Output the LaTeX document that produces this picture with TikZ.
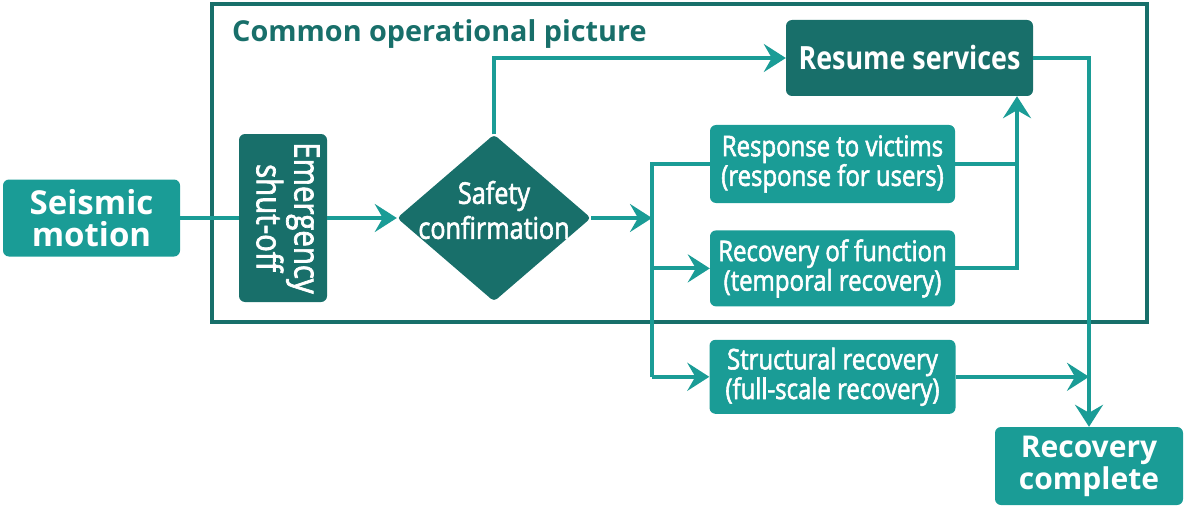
\documentclass[tikz,border=0pt]{standalone}
\usepackage{fontspec}
\setmainfont{Open Sans}
\newfontfamily\condfont[FakeStretch=0.84, FakeBold=2]{Open Sans}
\newfontfamily\condbold[FakeStretch=0.84]{Open Sans}
\usetikzlibrary{positioning, arrows.meta, shapes.geometric}
\definecolor{tealdark}{RGB}{24,111,106}
\definecolor{teallight}{RGB}{26,156,150}

\begin{document}
\begin{tikzpicture}[
  x=1pt, y=-1pt,
  lightbox/.style={fill=teallight, rounded corners=6pt, text=white, align=center, inner sep=0pt},
  darkbox/.style={fill=tealdark, rounded corners=6pt, text=white, align=center, inner sep=0pt},
  boxtext/.style={font=\condfont\fontsize{28.5}{26}\selectfont},
  bigtext/.style={font=\bfseries\fontsize{31}{32}\selectfont},
  link/.style={line width=4pt, teallight},
  arrow/.style={-{Stealth[length=22pt, width=28pt, inset=8pt]}, line width=4pt, teallight},
  node distance=27pt
]
\useasboundingbox (0,0) rectangle (1185,508);

% Frame and title
\node[draw=tealdark, line width=4pt, minimum width=935, minimum height=318, inner sep=0pt] (cop) at (679.5,163) {};
\node[anchor=base west, inner sep=0pt, text=tealdark, font=\bfseries\fontsize{28.8}{30}\selectfont] (title) at (232,42) {Common operational picture};

% Nodes
\node[lightbox, bigtext, font=\bfseries\fontsize{33}{32}\selectfont, minimum width=177, minimum height=77] (seismic) at (91.5,218) {Seismic\\motion};
\node[darkbox, minimum width=88, minimum height=168] (shutoff) at (283,218)
  {\rotatebox{-90}{\condfont\fontsize{35}{37}\selectfont\begin{tabular}{@{}c@{}}Emergency\\shut-off\end{tabular}}};
\node[diamond, fill=tealdark, minimum width=194, minimum height=167, inner sep=0pt, rounded corners=4pt,
  label={[text=white, align=center, yshift=8pt, font=\condfont\fontsize{30}{35}\selectfont]center:Safety\\confirmation}] (safety) at (494,218) {};
\node[darkbox, minimum width=247, minimum height=76, font=\condbold\bfseries\fontsize{32}{32}\selectfont] (resume) at (909.5,58) {Resume services};
\node[lightbox, boxtext, minimum width=245, minimum height=78] (victims) at (832.5,164) {Response to victims\\(response for users)};
\node[lightbox, boxtext, minimum width=245, minimum height=76, below=of victims] (function) {Recovery of function\\(temporal recovery)};
\node[lightbox, boxtext, minimum width=246, minimum height=74, below=33pt of function] (structural) {Structural recovery\\(full-scale recovery)};
\node[lightbox, bigtext, font=\bfseries\fontsize{30}{32}\selectfont, minimum width=188, minimum height=78] (complete) at (1089,466) {Recovery\\complete};

% Connectors
\coordinate (split) at (652,218);
\coordinate (upx) at (1017,0);
\draw[link] (seismic.east) -- (shutoff.west);
\draw[arrow] (shutoff.east) -- (safety.west);
\draw[arrow] (safety.north) |- (resume.west);
\draw[arrow] (safety.east) -- (split);
\draw[link] (victims.west) -| (split) -- (split |- structural.west);
\draw[arrow] (split |- function.west) -- (function.west);
\draw[arrow] (split |- structural.west) -- (structural.west);
\draw[link] (victims.east) -- (victims.east -| upx);
\draw[arrow] (function.east) -| (resume.south -| upx);
\draw[arrow] (resume.east) -| (complete.north);
\draw[arrow] (structural.east) -- (structural.east -| complete.north);

\end{tikzpicture}
\end{document}
